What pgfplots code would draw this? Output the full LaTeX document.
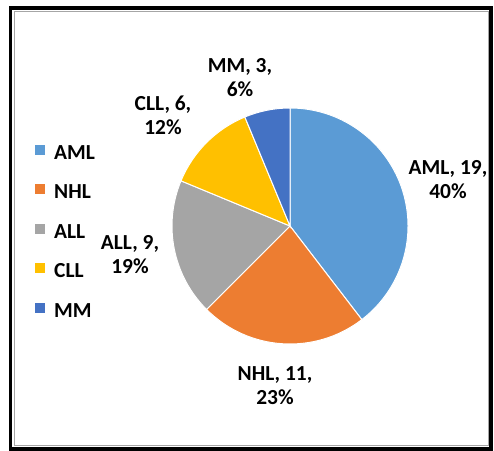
\documentclass[border=0pt]{standalone}
\usepackage{pgfplots}
\usepackage{pgfplotstable}
\pgfplotsset{compat=1.18}
\usepackage{fontspec}
\setmainfont{Carlito}
\definecolor{cAML}{HTML}{5B9BD5}
\definecolor{cNHL}{HTML}{ED7D31}
\definecolor{cALL}{HTML}{A5A5A5}
\definecolor{cCLL}{HTML}{FFC000}
\definecolor{cMM}{HTML}{4472C4}
\pgfplotstableread{
name value
AML 19
NHL 11
ALL 9
CLL 6
MM 3
}\piedata
\begin{document}
\begin{tikzpicture}
\begin{axis}[hide axis, x=1bp, y=1bp, xmin=0, xmax=494, ymin=0, ymax=451,
  scale only axis, anchor=origin, at={(0,0)}, clip=false,
  font=\bfseries\fontsize{21.5}{24}\selectfont,
  legend cell align=left,
  legend style={at={(axis cs:32,310)}, anchor=north west, draw=none, fill=none,
    font=\bfseries\fontsize{21.5}{24}\selectfont, row sep=18.5bp,
    nodes={text height=14bp, text depth=3bp, inner sep=2bp}},
  legend image code/.code={\fill[#1, draw=none] (0bp,-1bp) rectangle (10bp,9bp); \path[draw=none, fill=none] (0bp,0bp) rectangle (17bp,1bp);}]
\addplot[draw=none, forget plot] coordinates {(0,0) (494,451)};
\pgfplotsextra{
  \draw[black, line width=3.5bp] (axis cs:10.5,2) rectangle (axis cs:491,443);
  \draw[gray!70, line width=1bp] (axis cs:14.5,5.5) rectangle (axis cs:488,439);
  \gdef\total{0}
  \foreach \i in {0,...,4}{
    \pgfplotstablegetelem{\i}{value}\of\piedata
    \pgfmathsetmacro\t{\total+\pgfplotsretval}
    \xdef\total{\t}
  }
  \gdef\cum{0}
  \foreach \i/\col in {0/cAML,1/cNHL,2/cALL,3/cCLL,4/cMM}{
    \pgfplotstablegetelem{\i}{value}\of\piedata
    \let\v\pgfplotsretval
    \pgfmathsetmacro\a{90-360*(\cum/\total)}
    \pgfmathsetmacro\b{90-360*((\cum+\v)/\total)}
    \fill[\col, draw=white, line width=1bp] (axis cs:290,225) -- (axis cs:{290+118*cos(\a)},{225+118*sin(\a)}) arc[start angle=\a, end angle=\b, radius=118bp] -- cycle;
    \pgfmathsetmacro\c{\cum+\v}
    \xdef\cum{\c}
  }
  \node[align=center, inner sep=0pt] at (axis cs:448,271) {AML, 19,\\40\%};
  \node[align=center, inner sep=0pt] at (axis cs:275,65) {NHL, 11,\\23\%};
  \node[align=center, inner sep=0pt] at (axis cs:130,196) {ALL, 9,\\19\%};
  \node[align=center, inner sep=0pt] at (axis cs:163,336) {CLL, 6,\\12\%};
  \node[align=center, inner sep=0pt] at (axis cs:240,373) {MM, 3,\\6\%};
}
\addlegendimage{cAML}\addlegendentry{AML}
\addlegendimage{cNHL}\addlegendentry{NHL}
\addlegendimage{cALL}\addlegendentry{ALL}
\addlegendimage{cCLL}\addlegendentry{CLL}
\addlegendimage{cMM}\addlegendentry{MM}
\end{axis}
\end{tikzpicture}
\end{document}
